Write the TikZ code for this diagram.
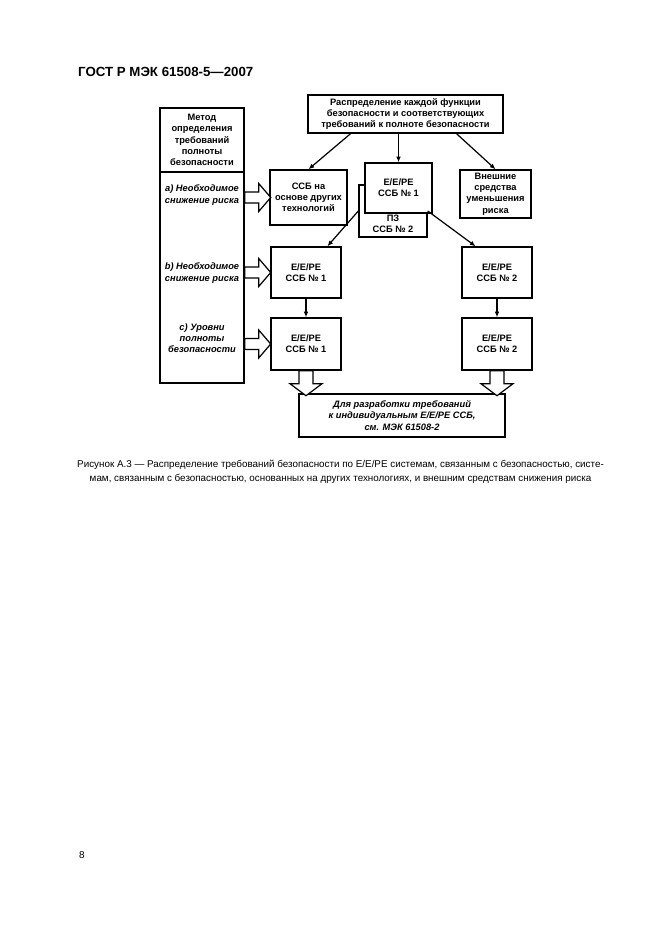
\documentclass[tikz,border=0pt]{standalone}
\usepackage{fontspec}
\setmainfont{Liberation Sans}
\usetikzlibrary{arrows.meta,calc}

% hollow block arrows (start at a node anchor)
\newcommand{\hollowright}[1]{%
  \draw[line width=1.1pt, fill=white] (#1) ++(0,-5.5) -- ++(14,0) -- ++(0,-8.5) -- ++(12,14) -- ++(-12,14) -- ++(0,-8.5) -- ++(-14,0) -- cycle;}
\newcommand{\hollowdown}[1]{%
  \draw[line width=1.1pt, fill=white] (#1) ++(-7,0) -- ++(0,13) -- ++(-9,0) -- ++(16,12) -- ++(16,-12) -- ++(-9,0) -- ++(0,-13) -- cycle;}

\begin{document}
\begin{tikzpicture}[x=0.3177mm, y=-0.3177mm,
    blk/.style={draw, line width=1.3pt, fill=white, inner sep=0pt, align=center,
      font=\fontsize{8.4}{10.2}\selectfont\bfseries},
    sz/.style 2 args={minimum width=#1*0.3177mm, minimum height=#2*0.3177mm},
    txt/.style={inner sep=0pt, align=center, font=\fontsize{8.4}{10.2}\selectfont\bfseries},
    arr/.style={line width=1.1pt, -{Latex[length=1.8mm,width=1.5mm]}}
  ]
  \useasboundingbox (0,0) rectangle (661,936);

  \node[anchor=west, inner sep=0pt, font=\fontsize{12}{14}\selectfont\bfseries] (title) at (78,72) {ГОСТ Р МЭК 61508-5—2007};

  \node[blk, sz={195}{38}] (raspr) at (405.5,114) {Распределение каждой функции\\безопасности и соответствующих\\требований к полноте безопасности};

  % method column
  \node[blk, sz={84}{275}] (metod) at (202,245.5) {};
  \draw[line width=1.3pt] (metod.west |- 0,172) -- (metod.east |- 0,172);
  \node[txt] (mhead) at (202,140) {Метод\\определения\\требований\\полноты\\безопасности};
  \node[txt, font=\fontsize{8.4}{10.2}\selectfont\bfseries\itshape] (ma) at (202,195) {a) Необходимое\\снижение риска};
  \node[txt, font=\fontsize{8.4}{10.2}\selectfont\bfseries\itshape] (mb) at (202,273) {b) Необходимое\\снижение риска};
  \node[txt, font=\fontsize{8.4}{10.2}\selectfont\bfseries\itshape] (mc) at (202,338) {c) Уровни\\полноты\\безопасности};

  % first row
  \node[blk, sz={77}{55}] (tech) at (308.5,197.5) {ССБ на\\основе других\\технологий};
  \node[blk, sz={68}{52}] (pz) at (393,211) {};
  \node[txt] (pztext) at (393,224) {ПЗ\\ССБ № 2};
  \node[blk, sz={67}{50}] (eep1) at (398.5,188) {Е/Е/PE\\ССБ № 1};
  \node[blk, sz={71}{48}] (vnesh) at (495.5,194) {Внешние\\средства\\уменьшения\\риска};

  % second and third rows
  \node[blk, sz={70}{51}] (sys1a) at (306,272.5) {Е/Е/PE\\ССБ № 1};
  \node[blk, sz={70}{51}] (sys2a) at (497,272.5) {Е/Е/PE\\ССБ № 2};
  \node[blk, sz={70}{52}] (sys1b) at (306,344) {Е/Е/PE\\ССБ № 1};
  \node[blk, sz={70}{52}] (sys2b) at (497,344) {Е/Е/PE\\ССБ № 2};

  \node[blk, sz={206}{43}, font=\fontsize{8.4}{10.2}\selectfont\bfseries\itshape] (razr) at (402,415.5) {Для разработки требований\\к индивидуальным Е/Е/PE ССБ,\\см. МЭК 61508-2};

  % connectors
  \draw[arr] ($(raspr.south west)!0.22!(raspr.south east)$) -- (tech.north);
  \draw[arr] (raspr.south -| eep1.north) -- (eep1.north);
  \draw[arr] ($(raspr.south west)!0.76!(raspr.south east)$) -- (vnesh.north);
  \draw[arr] (pz.west) -- ($(sys1a.north west)!0.8!(sys1a.north east)$);
  \draw[arr] (pz.east) -- ($(sys2a.north west)!0.2!(sys2a.north east)$);
  \draw[arr] (sys1a) -- (sys1b);
  \draw[arr] (sys2a) -- (sys2b);

  \hollowright{metod.east |- tech.west}
  \hollowright{metod.east |- sys1a.west}
  \hollowright{metod.east |- sys1b.west}
  \hollowdown{sys1b.south}
  \hollowdown{sys2b.south}

  \node[inner sep=0pt, align=center, font=\fontsize{8.9}{12.5}\selectfont] (caption) at (340.5,471.5) {Рисунок А.3 — Распределение требований безопасности по Е/Е/PE системам, связанным с безопасностью, систе-\\мам, связанным с безопасностью, основанных на других технологиях, и внешним средствам снижения риска};

  \node[anchor=west, inner sep=0pt, font=\fontsize{9}{11}\selectfont] (pagenum) at (79,855) {8};
\end{tikzpicture}
\end{document}
